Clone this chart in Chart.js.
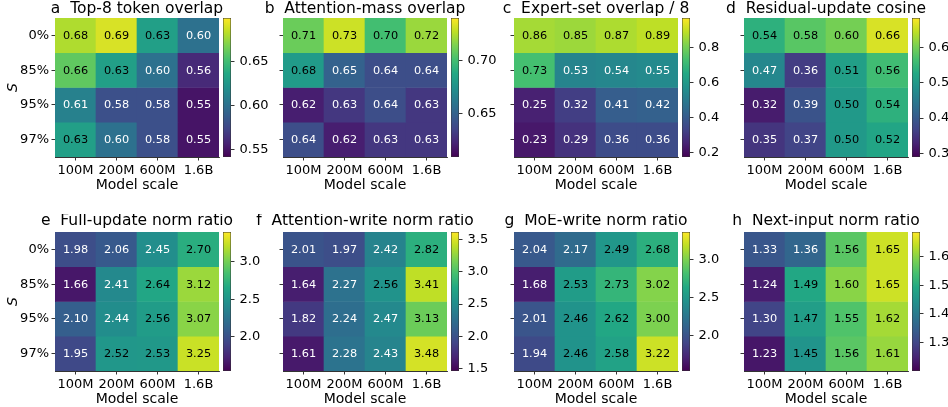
<!DOCTYPE html>
<html>
<head>
<meta charset="utf-8">
<script src="https://cdn.jsdelivr.net/npm/chart.js@4.4.1/dist/chart.umd.min.js"></script>
<style>
  html, body { margin: 0; padding: 0; background: #fff; overflow: hidden; }
  #fig { position: relative; width: 948px; height: 407px; }
  #fig canvas { position: absolute; }
</style>
</head>
<body>
<div id="fig"></div>
<script>
// rows = sparsity S, columns = model scale
const sparsity = ['0%', '85%', '95%', '97%'];
const models = ['100M', '200M', '600M', '1.6B'];

const top8Overlap = [
  [0.68, 0.69, 0.63, 0.60],
  [0.66, 0.63, 0.60, 0.56],
  [0.61, 0.58, 0.58, 0.55],
  [0.63, 0.60, 0.58, 0.55]
];
const attnMassOverlap = [
  [0.71, 0.73, 0.70, 0.72],
  [0.68, 0.65, 0.64, 0.64],
  [0.62, 0.63, 0.64, 0.63],
  [0.64, 0.62, 0.63, 0.63]
];
const expertSetOverlap = [
  [0.86, 0.85, 0.87, 0.89],
  [0.73, 0.53, 0.54, 0.55],
  [0.25, 0.32, 0.41, 0.42],
  [0.23, 0.29, 0.36, 0.36]
];
const residualCosine = [
  [0.54, 0.58, 0.60, 0.66],
  [0.47, 0.36, 0.51, 0.56],
  [0.32, 0.39, 0.50, 0.54],
  [0.35, 0.37, 0.50, 0.52]
];
const fullUpdateRatio = [
  [1.98, 2.06, 2.45, 2.70],
  [1.66, 2.41, 2.64, 3.12],
  [2.10, 2.44, 2.56, 3.07],
  [1.95, 2.52, 2.53, 3.25]
];
const attnWriteRatio = [
  [2.01, 1.97, 2.42, 2.82],
  [1.64, 2.27, 2.56, 3.41],
  [1.82, 2.24, 2.47, 3.13],
  [1.61, 2.28, 2.43, 3.48]
];
const moeWriteRatio = [
  [2.04, 2.17, 2.49, 2.68],
  [1.68, 2.53, 2.73, 3.02],
  [2.01, 2.46, 2.62, 3.00],
  [1.94, 2.46, 2.58, 3.22]
];
const nextInputRatio = [
  [1.33, 1.36, 1.56, 1.65],
  [1.24, 1.49, 1.60, 1.65],
  [1.30, 1.47, 1.55, 1.62],
  [1.23, 1.45, 1.56, 1.61]
];

const panelTitles = [
  'a  Top-8 token overlap', 'b  Attention-mass overlap', 'c  Expert-set overlap / 8', 'd  Residual-update cosine',
  'e  Full-update norm ratio', 'f  Attention-write norm ratio', 'g  MoE-write norm ratio', 'h  Next-input norm ratio'
];
const panelValues = [top8Overlap, attnMassOverlap, expertSetOverlap, residualCosine,
  fullUpdateRatio, attnWriteRatio, moeWriteRatio, nextInputRatio];

// colour-scale limits and colorbar ticks
const colorMin = [0.5415, 0.609, 0.177, 0.29, 1.541, 1.46, 1.53, 1.201];
const colorMax = [0.699, 0.740, 0.968, 0.683, 3.40, 3.62, 3.36, 1.686];
const cbarTicks = [
  [0.55, 0.60, 0.65], [0.65, 0.70], [0.2, 0.4, 0.6, 0.8], [0.3, 0.4, 0.5, 0.6],
  [2.0, 2.5, 3.0], [1.5, 2.0, 2.5, 3.0, 3.5], [2.0, 2.5, 3.0], [1.3, 1.4, 1.5, 1.6]
];
const cbarDecimals = [2, 2, 1, 1, 1, 1, 1, 1];

const viridisStops = ['#440154', '#482475', '#414487', '#355f8d', '#2a788e', '#21918c',
  '#22a884', '#44bf70', '#7ad151', '#bddf26', '#fde725'];

function hexRgb(h) {
  return [parseInt(h.slice(1, 3), 16), parseInt(h.slice(3, 5), 16), parseInt(h.slice(5, 7), 16)];
}
function viridis(t) {
  t = Math.min(1, Math.max(0, t));
  const pos = t * (viridisStops.length - 1);
  const i = Math.min(Math.floor(pos), viridisStops.length - 2);
  const f = pos - i;
  const a = hexRgb(viridisStops[i]), b = hexRgb(viridisStops[i + 1]);
  const c = a.map((v, k) => Math.round(v + (b[k] - v) * f));
  return 'rgb(' + c.join(',') + ')';
}

Chart.defaults.font.family = '"DejaVu Sans", sans-serif';
Chart.defaults.color = '#000';

// layout in page pixels
const heatLeft = [55, 283, 514, 744];
const rowTop = [18, 232];
const titleGap = [9, 11];
const heatW = 164, heatH = 139;
const axisW = 55, axisH = 44, rightPad = 50, cbarW = 8, cbarAxisW = 47;

const fig = document.getElementById('fig');
function addCanvas(left, top, w, h) {
  const c = document.createElement('canvas');
  c.width = w; c.height = h;
  c.style.left = left + 'px'; c.style.top = top + 'px';
  c.style.width = w + 'px'; c.style.height = h + 'px';
  fig.appendChild(c);
  return c;
}

// value text in each cell
const cellLabels = {
  id: 'cellLabels',
  afterDatasetsDraw(chart) {
    const ctx = chart.ctx;
    ctx.save();
    ctx.font = '11.3px "DejaVu Sans"';
    ctx.textAlign = 'center';
    ctx.textBaseline = 'middle';
    chart.data.datasets.forEach((ds, i) => {
      chart.getDatasetMeta(i).data.forEach((bar, j) => {
        const p = bar.getProps(['x', 'y', 'base'], true);
        ctx.fillStyle = ds.cellNorm[j] < 0.5 ? '#fff' : '#000';
        ctx.fillText(ds.cellValues[j].toFixed(2), p.x, (p.y + p.base) / 2 + 0.5);
      });
    });
    ctx.restore();
  }
};

// panel title centred over the heatmap
const panelTitle = {
  id: 'panelTitle',
  afterDraw(chart, args, opts) {
    const a = chart.chartArea, ctx = chart.ctx;
    ctx.save();
    ctx.font = '15.5px "DejaVu Sans"';
    ctx.fillStyle = '#000';
    ctx.textAlign = 'center';
    ctx.textBaseline = 'middle';
    ctx.fillText(opts.text, (a.left + a.right) / 2, a.top - opts.gap);
    ctx.restore();
  }
};

panelValues.forEach((vals, p) => {
  const col = p % 4, row = Math.floor(p / 4);
  const vmin = colorMin[p], vmax = colorMax[p];
  const norm = v => (v - vmin) / (vmax - vmin);
  const cLeft = heatLeft[col] - axisW, cTop = rowTop[row] - 18;
  const cH = 18 + heatH + axisH;

  const heat = addCanvas(cLeft, cTop, axisW + heatW + rightPad, cH);
  new Chart(heat, {
    type: 'bar',
    data: {
      labels: models,
      datasets: sparsity.map((s, r) => ({
        label: s,
        data: models.map(() => [r, r + 1]),
        cellValues: vals[r],
        cellNorm: vals[r].map(norm),
        backgroundColor: vals[r].map(v => viridis(norm(v))),
        borderWidth: 0,
        grouped: false,
        barPercentage: 1,
        categoryPercentage: 1
      }))
    },
    options: {
      responsive: false,
      animation: false,
      events: [],
      layout: { padding: { top: 18, right: rightPad, left: 0, bottom: 0 } },
      plugins: {
        legend: { display: false },
        tooltip: { enabled: false },
        panelTitle: { text: panelTitles[p], gap: titleGap[row] }
      },
      scales: {
        x: {
          afterFit(s) { s.height = axisH; },
          grid: { offset: false, drawOnChartArea: false, drawTicks: true, tickLength: 3.5, color: '#000', lineWidth: 0.8 },
          border: { display: true, color: '#333', width: 1 },
          ticks: { font: { size: 13 }, padding: 2.5, maxRotation: 0, autoSkip: false },
          title: { display: true, text: 'Model scale', font: { size: 14 }, padding: { top: 0, bottom: 7 } }
        },
        y: {
          type: 'linear',
          min: 0, max: 4,
          reverse: true,
          afterFit(s) { s.width = axisW; },
          afterBuildTicks(s) { s.ticks = sparsity.map((_, i) => ({ value: i + 0.5 })); },
          grid: { drawOnChartArea: false, drawTicks: true, tickLength: 3.5, color: '#000', lineWidth: 0.8 },
          border: { display: true, color: '#333', width: 1 },
          ticks: {
            font: { size: 13 }, padding: 2.5, autoSkip: false,
            callback: (v, i) => col === 0 ? sparsity[i] : ''
          },
          title: { display: col === 0, text: 'S', font: { size: 14, style: 'italic' }, padding: { top: 5, bottom: 0 } }
        }
      }
    },
    plugins: [cellLabels, panelTitle]
  });

  // colorbar
  const cb = addCanvas(heatLeft[col] + heatW + 4, cTop, cbarW + cbarAxisW, cH);
  new Chart(cb, {
    type: 'bar',
    data: {
      labels: [''],
      datasets: [{
        data: [[vmin, vmax]],
        backgroundColor: c => {
          const area = c.chart.chartArea;
          if (!area) return null;
          const g = c.chart.ctx.createLinearGradient(0, area.bottom, 0, area.top);
          viridisStops.forEach((s, k) => g.addColorStop(k / (viridisStops.length - 1), s));
          return g;
        },
        borderColor: '#333',
        borderWidth: 0.8,
        borderSkipped: false,
        barPercentage: 1,
        categoryPercentage: 1
      }]
    },
    options: {
      responsive: false,
      animation: false,
      events: [],
      layout: { padding: { top: 18, bottom: axisH, left: 0, right: 0 } },
      plugins: { legend: { display: false }, tooltip: { enabled: false } },
      scales: {
        x: { display: false },
        y: {
          type: 'linear',
          position: 'right',
          min: vmin, max: vmax,
          afterFit(s) { s.width = cbarAxisW; },
          afterBuildTicks(s) { s.ticks = cbarTicks[p].map(v => ({ value: v })); },
          grid: { drawOnChartArea: false, drawTicks: true, tickLength: 3.5, color: '#000', lineWidth: 0.8 },
          border: { display: false },
          ticks: { font: { size: 13 }, padding: 5, callback: v => v.toFixed(cbarDecimals[p]) }
        }
      }
    }
  });
});
</script>
</body>
</html>
